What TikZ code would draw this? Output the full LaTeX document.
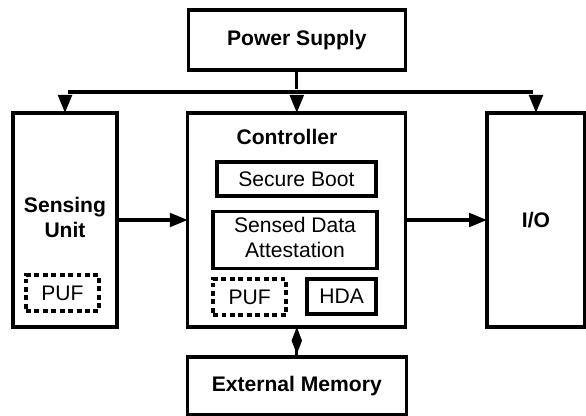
\documentclass[tikz,border=0pt]{standalone}
\usepackage{fontspec}
\setmainfont{Liberation Sans}
\usepackage{tikz-network}
\usetikzlibrary{arrows.meta}

\newcommand{\twolines}[2]{\begin{tabular}{@{}c@{}}#1\\#2\end{tabular}}

\begin{document}
\begin{tikzpicture}

\SetVertexStyle[Shape=rectangle, MinSize=0pt, LineWidth=2.4pt, FillColor=white, LineColor=black, InnerSep=2pt, OuterSep=0pt, TextFont=\fontsize{15}{17.5}\selectfont]
\SetEdgeStyle[Color=black, LineWidth=2.4pt]
\SetTextStyle[TextFont=\fontsize{15}{17.5}\selectfont\bfseries]

\useasboundingbox (0,0) rectangle (14.65,10.4);

\Vertex[x=7.42,y=9.4,label={\textbf{Power Supply}},style={minimum width=5.43cm,minimum height=1.5cm}]{PS}
\Vertex[x=1.625,y=4.9,label={\textbf{\twolines{Sensing}{Unit}}},style={minimum width=2.6cm,minimum height=5.35cm}]{SU}
\Vertex[x=7.42,y=4.9,style={minimum width=5.45cm,minimum height=5.35cm}]{CTRL}
\Vertex[x=13.4,y=4.9,label={\textbf{I/O}},style={minimum width=2.45cm,minimum height=5.35cm}]{IO}
\Vertex[x=7.42,y=0.75,label={\textbf{External Memory}},style={minimum width=5.475cm,minimum height=1.45cm}]{EM}

\Vertex[x=7.41,y=5.925,label={Secure Boot},style={minimum width=3.975cm,minimum height=0.85cm}]{SB}
\Vertex[x=7.375,y=4.4,label={\twolines{Sensed Data}{Attestation}},style={minimum width=4.1cm,minimum height=1.425cm}]{SDA}
\Vertex[x=6.24,y=2.975,label=PUF,style={dash pattern=on 3.5pt off 2.5pt,minimum width=1.825cm,minimum height=0.9cm}]{PUF_2}
\Vertex[x=8.54,y=2.99,label=HDA,style={minimum width=1.725cm,minimum height=0.875cm}]{HDA}
\Vertex[x=1.5625,y=3.075,label=PUF,style={dash pattern=on 3.5pt off 2.5pt,minimum width=1.825cm,minimum height=0.9cm}]{PUF_1}

\Text[x=7.175,y=6.975]{Controller}

\Vertex[x=7.42,y=8.1,Pseudo]{J}
\Vertex[x=1.625,y=8.1,Pseudo]{J_L}
\Vertex[x=13.4,y=8.1,Pseudo]{J_R}

\Edge[style={line width=2.4pt}](PS)(J)
\Edge[style={line width=2.4pt}](J_L)(J_R)
\Edge[style={line width=2.4pt,-{Triangle[length=0.45cm,width=0.34cm]}}](J_L)(SU)
\Edge[style={line width=2.4pt,-{Triangle[length=0.45cm,width=0.34cm]}}](J)(CTRL)
\Edge[style={line width=2.4pt,-{Triangle[length=0.45cm,width=0.34cm]}}](J_R)(IO)
\Edge[style={line width=2.4pt,-{Triangle[length=0.45cm,width=0.34cm]}}](SU)(CTRL)
\Edge[style={line width=2.4pt,-{Triangle[length=0.45cm,width=0.34cm]}}](CTRL)(IO)
\Edge[style={line width=2.4pt,{Diamond[length=0.68cm,width=0.26cm]}-}](CTRL)(EM)

\end{tikzpicture}
\end{document}
